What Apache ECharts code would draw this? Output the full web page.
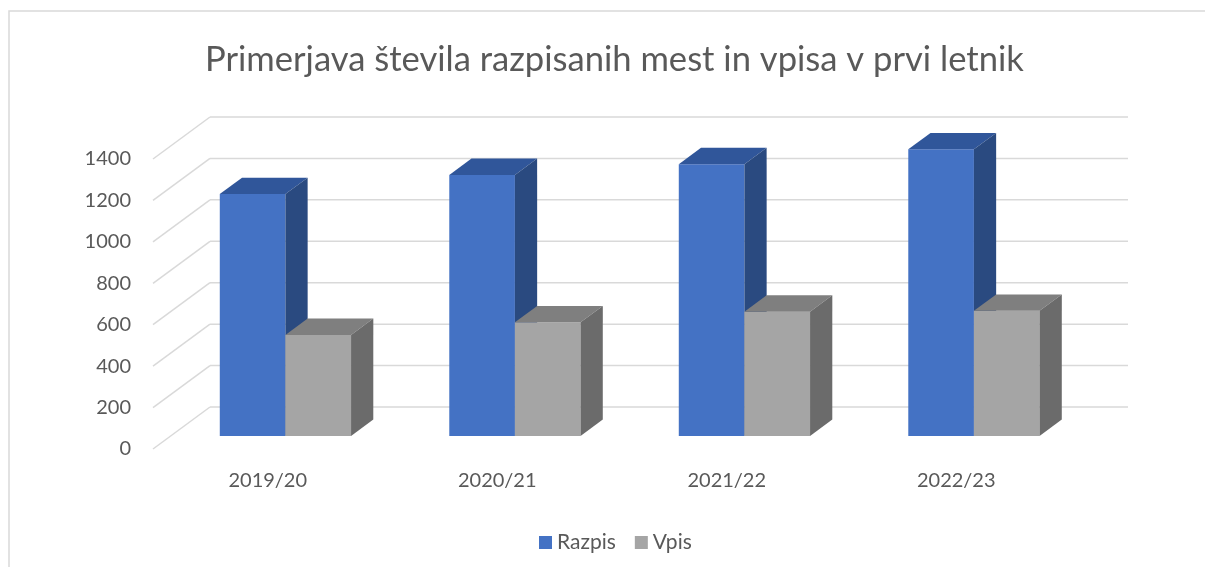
<!DOCTYPE html>
<html>
<head>
<meta charset="utf-8">
<title>Primerjava števila razpisanih mest in vpisa v prvi letnik</title>
<script src="https://cdn.jsdelivr.net/npm/echarts@6/dist/echarts.min.js"></script>
<style>
    html, body { margin: 0; padding: 0; background: #ffffff; }
    #chart { width: 1205px; height: 567px; }
</style>
</head>
<body>
<div id="chart"></div>
<script>
const years = ["2019/20", "2020/21", "2021/22", "2022/23"];
const razpis = [1168, 1260, 1312, 1384];
const vpis = [488, 549, 600, 604];
const yTicks = [0, 200, 400, 600, 800, 1000, 1200, 1400];

// oblique "3D" depth of the whole plot (back wall offset from the front plane)
const DEPTH_X = 57;
const DEPTH_Y = 42;
// bars sit between these fractions of the depth
const BAR_FRONT = 0.31;
const BAR_BACK = 0.70;
const BAR_RATIO = 0.286;

const textColor = "#595959";
const fontFamily = "Lato, 'Open Sans', sans-serif";

const palette = {
    razpis: { front: "#4472C4", top: "#30569A", side: "#2A4A80" },
    vpis: { front: "#A5A5A5", top: "#7F7F7F", side: "#6B6B6B" }
};

function gridRenderer(params, api) {
    const value = api.value(1);
    const y = api.coord([0, value])[1];
    const left = params.coordSys.x;
    const right = params.coordSys.x + params.coordSys.width;
    const lineStyle = { stroke: "#D9D9D9", lineWidth: 1.5, fill: null };

    return {
        type: "group",
        children: [
            {
                type: "line",
                shape: { x1: left, y1: y, x2: left + DEPTH_X, y2: y - DEPTH_Y },
                style: lineStyle
            },
            {
                type: "line",
                shape: { x1: left + DEPTH_X, y1: y - DEPTH_Y, x2: right + DEPTH_X, y2: y - DEPTH_Y },
                style: lineStyle
            }
        ]
    };
}

function barRenderer(colors, slot) {
    return (params, api) => {
        const category = api.value(0);
        const value = api.value(1);
        const band = api.size([1, 0])[0];
        const width = band * BAR_RATIO;
        const top = api.coord([category, value]);
        const base = api.coord([category, 0]);

        const shiftX = DEPTH_X * BAR_FRONT;
        const shiftY = DEPTH_Y * BAR_FRONT;
        const depthX = DEPTH_X * (BAR_BACK - BAR_FRONT);
        const depthY = DEPTH_Y * (BAR_BACK - BAR_FRONT);

        const x0 = top[0] + shiftX + slot * width;
        const x1 = x0 + width;
        const yTop = top[1] - shiftY;
        const yBase = base[1] - shiftY;

        return {
            type: "group",
            children: [
                {
                    type: "rect",
                    shape: { x: x0, y: yTop, width: width, height: yBase - yTop },
                    style: { fill: colors.front }
                },
                {
                    type: "polygon",
                    shape: {
                        points: [
                            [x0, yTop],
                            [x1, yTop],
                            [x1 + depthX, yTop - depthY],
                            [x0 + depthX, yTop - depthY]
                        ]
                    },
                    style: { fill: colors.top }
                },
                {
                    type: "polygon",
                    shape: {
                        points: [
                            [x1, yTop],
                            [x1 + depthX, yTop - depthY],
                            [x1 + depthX, yBase - depthY],
                            [x1, yBase]
                        ]
                    },
                    style: { fill: colors.side }
                }
            ]
        };
    };
}

const chart = echarts.init(document.getElementById("chart"));

chart.setOption({
    animation: false,
    backgroundColor: "#ffffff",
    title: {
        text: "Primerjava števila razpisanih mest in vpisa v prvi letnik",
        left: 200,
        top: 37,
        textStyle: {
            color: textColor,
            fontFamily: fontFamily,
            fontWeight: "normal",
            fontSize: 34.6
        }
    },
    legend: {
        left: 534,
        top: 527,
        itemWidth: 13,
        itemHeight: 13,
        itemGap: 19,
        icon: "rect",
        textStyle: {
            color: textColor,
            fontFamily: fontFamily,
            fontSize: 21
        },
        data: ["Razpis", "Vpis"]
    },
    graphic: [
        {
            type: "rect",
            silent: true,
            shape: { x: 9, y: 11, width: 1400, height: 700 },
            style: { fill: null, stroke: "#D9D9D9", lineWidth: 1.5 }
        }
    ],
    grid: {
        left: 153,
        right: 134,
        top: 159,
        bottom: 118
    },
    xAxis: {
        type: "category",
        data: years,
        axisLine: { show: false },
        axisTick: { show: false },
        axisLabel: {
            margin: 22,
            color: textColor,
            fontFamily: fontFamily,
            fontSize: 20
        }
    },
    yAxis: {
        type: "value",
        min: 0,
        max: 1400,
        interval: 200,
        axisLine: { show: false },
        axisTick: { show: false },
        splitLine: { show: false },
        axisLabel: {
            margin: 22,
            color: textColor,
            fontFamily: fontFamily,
            fontSize: 20,
            formatter: value => String(value)
        }
    },
    series: [
        {
            name: "walls",
            type: "custom",
            silent: true,
            clip: false,
            z: 1,
            renderItem: gridRenderer,
            data: yTicks.map(v => [0, v])
        },
        {
            name: "Razpis",
            type: "custom",
            clip: false,
            z: 3,
            itemStyle: { color: palette.razpis.front },
            renderItem: barRenderer(palette.razpis, -1),
            data: razpis.map((v, i) => [i, v])
        },
        {
            name: "Vpis",
            type: "custom",
            clip: false,
            z: 4,
            itemStyle: { color: palette.vpis.front },
            renderItem: barRenderer(palette.vpis, 0),
            data: vpis.map((v, i) => [i, v])
        }
    ]
});
</script>
</body>
</html>
